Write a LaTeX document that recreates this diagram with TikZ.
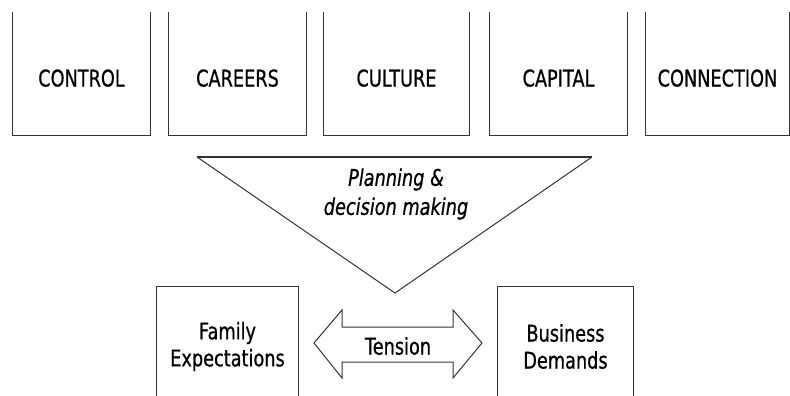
\documentclass[tikz,border=0pt]{standalone}
\usepackage{fontspec}
\setmainfont[FakeStretch=0.77, FakeBold=0.7]{DejaVu Sans}
\begin{document}
\begin{tikzpicture}[x=1pt, y=-1pt,
  every node/.style={font=\fontsize{23}{27}\selectfont, align=center, inner sep=0pt},
  topbox/.style={minimum height=123pt, text height=26pt, text depth=0pt},
  lowbox/.style={minimum height=109pt},
  rim/.style={draw=black!80, line width=1pt}]
  \useasboundingbox (0,0) rectangle (790,396);
  % the five Cs
  \node [topbox, minimum width=137pt] (control) at (81.5,73.5) {CONTROL};
  \node [topbox, minimum width=137pt] (careers) at (237.5,73.5) {CAREERS};
  \node [topbox, minimum width=145pt] (culture) at (396.5,73.5) {CULTURE};
  \node [topbox, minimum width=137pt] (capital) at (558.5,73.5) {CAPITAL};
  \node [topbox, minimum width=143pt] (connection) at (717.5,73.5) {CONNECTION};
  \foreach \b in {control,careers,culture,capital,connection}
    \draw [rim] (\b.north west) |- (\b.south east) -- (\b.north east);
  % funnel
  \coordinate (fl) at (197,157);
  \coordinate (fr) at (592,157);
  \coordinate (tip) at (395,293);
  \draw [rim] (fl) -- (tip) -- (fr);
  \draw [rim, line width=2.2pt] (fl) -- (fr);
  \node [font=\fontsize{23}{29}\selectfont\itshape] (plan) at (396,194) {Planning \&\\decision making};
  % the two sides
  \node [lowbox, minimum width=141pt] (family) at (227.5,341.5) {};
  \node [lowbox, minimum width=135pt] (business) at (565.5,341.5) {};
  \foreach \b in {family,business}
    \draw [rim] (\b.south west) |- (\b.north east) -- (\b.south east);
  \node (famtext) at ([yshift=-5pt]family.center) {Family\\Expectations};
  \node (bustext) at ([yshift=-5pt]business.center) {Business\\Demands};
  % tension arrow
  \node (tension) at (398,346) {Tension};
  \draw [rim] (314,343) -- (342,310) -- (342,327) -- (453,327) -- (453,310) -- (482,343)
    -- (453,378) -- (453,362) -- (342,362) -- (342,378) -- cycle;
\end{tikzpicture}
\end{document}
